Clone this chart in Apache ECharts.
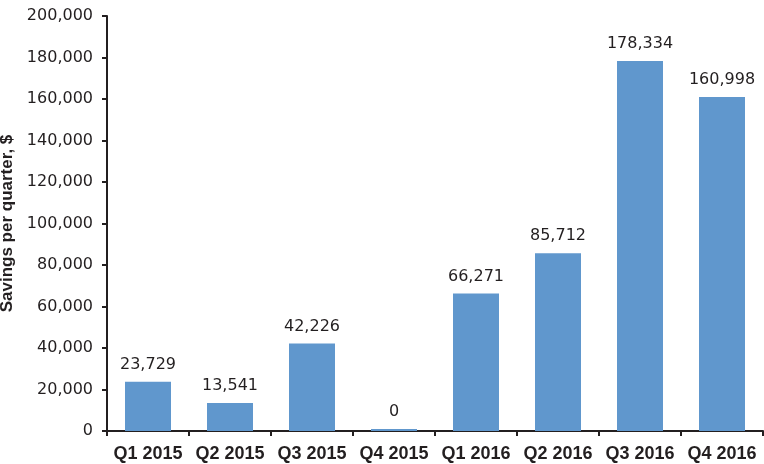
<!DOCTYPE html>
<html>
<head>
<meta charset="utf-8">
<script src="https://cdn.jsdelivr.net/npm/echarts@6/dist/echarts.min.js"></script>
<style>
    html, body { margin: 0; padding: 0; background: #fff; }
    #main { width: 764px; height: 464px; }
</style>
</head>
<body>
<div id="main"></div>
<script>
const quarters = ['Q1 2015', 'Q2 2015', 'Q3 2015', 'Q4 2015', 'Q1 2016', 'Q2 2016', 'Q3 2016', 'Q4 2016'];
const savings = [23729, 13541, 42226, 0, 66271, 85712, 178334, 160998];
const yMin = 0, yMax = 200000, yStep = 20000;

const bold = "'Liberation Sans', Arial, sans-serif";
const plain = "'DejaVu Sans', sans-serif";
const ink = '#231f20';

const chart = echarts.init(document.getElementById('main'));
chart.setOption({
    animation: false,
    grid: { left: 107, right: 1, top: 16, bottom: 33, containLabel: false, outerBoundsMode: 'none' },
    xAxis: {
        type: 'category',
        data: quarters,
        axisLine: { lineStyle: { color: ink, width: 2 } },
        axisTick: { show: true, length: 5, lineStyle: { color: ink, width: 2 } },
        axisLabel: {
            interval: 0, color: ink, fontFamily: bold, fontWeight: 'bold', fontSize: 18, margin: 14
        }
    },
    yAxis: {
        type: 'value',
        min: yMin, max: yMax, interval: yStep,
        name: 'Savings per quarter, $',
        nameLocation: 'middle',
        nameGap: 81,
        nameTextStyle: { color: ink, fontFamily: bold, fontWeight: 'bold', fontSize: 17 },
        splitLine: { show: false },
        axisLine: { show: true, lineStyle: { color: ink, width: 2 } },
        axisTick: { show: true, length: 5, lineStyle: { color: ink, width: 2 } },
        axisLabel: {
            color: ink, fontFamily: plain, fontSize: 16, margin: 14,
            formatter: v => v.toLocaleString('en-US')
        }
    },
    series: [{
        type: 'bar',
        data: savings,
        barWidth: 46,
        barMinHeight: 2,
        itemStyle: { color: '#6097cd' },
        label: {
            show: true, position: 'top', distance: 9,
            color: ink, fontFamily: plain, fontSize: 16,
            formatter: p => p.value.toLocaleString('en-US')
        }
    }]
});
</script>
</body>
</html>
